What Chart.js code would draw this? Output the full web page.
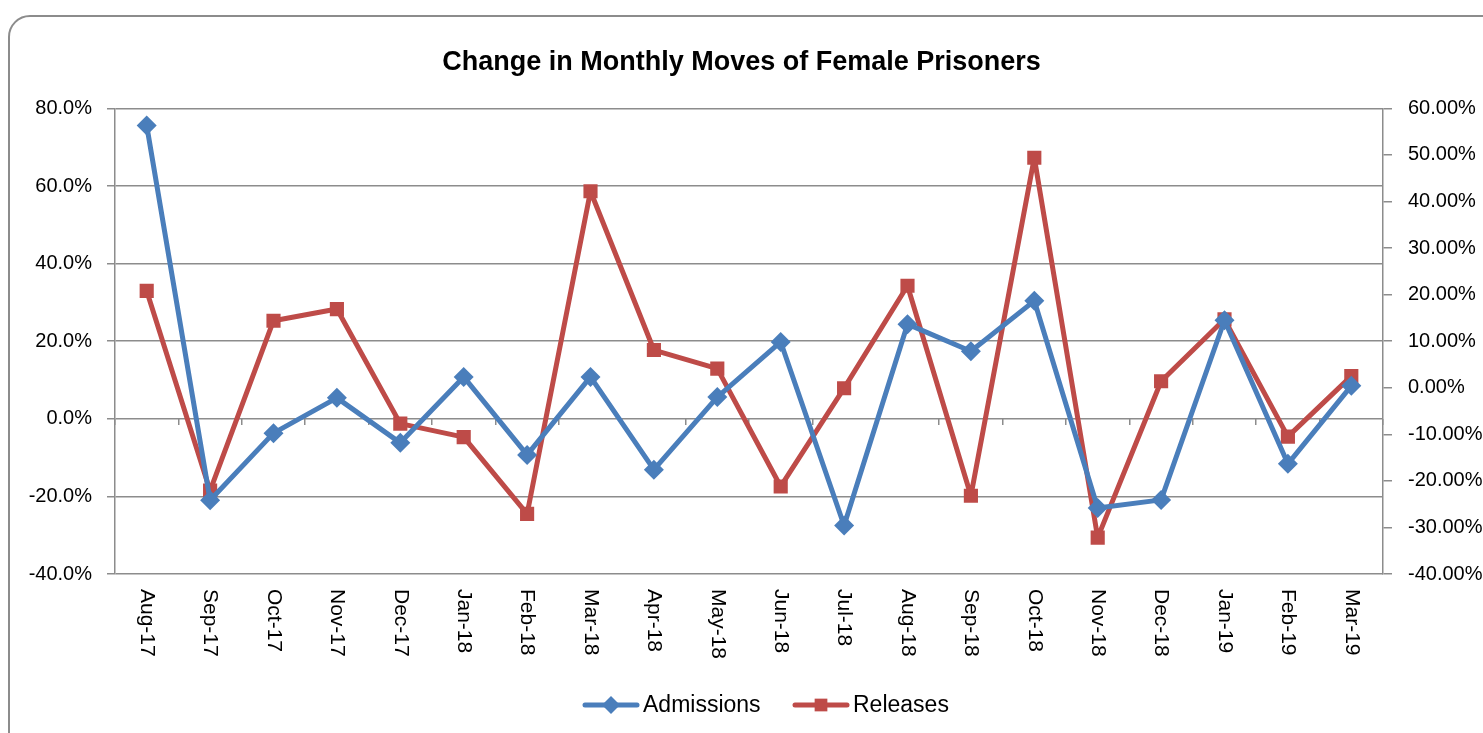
<!DOCTYPE html>
<html>
<head>
<meta charset="utf-8">
<script src="https://cdn.jsdelivr.net/npm/chart.js@4"></script>
<style>
	html, body { margin: 0; padding: 0; background: #fff; overflow: hidden; }
	#frame {
		position: absolute; left: 8px; top: 15px; width: 1560px; height: 780px;
		border: 2px solid #8c8c8c; border-radius: 22px;
	}
	#wrap { position: absolute; left: 0; top: 0; width: 1483px; height: 733px; }
</style>
</head>
<body>
<div id="frame"></div>
<div id="wrap"><canvas id="myChart" width="1483" height="733"></canvas></div>
<script>
var months = ['Aug-17','Sep-17','Oct-17','Nov-17','Dec-17','Jan-18','Feb-18','Mar-18','Apr-18','May-18',
	'Jun-18','Jul-18','Aug-18','Sep-18','Oct-18','Nov-18','Dec-18','Jan-19','Feb-19','Mar-19'];
// left axis, percent
var admissions = [75.6, -21.0, -3.7, 5.4, -6.2, 10.8, -9.3, 10.8, -13.1, 5.6,
	19.8, -27.5, 24.4, 17.4, 30.4, -23.0, -20.9, 25.4, -11.6, 8.5];
// right axis, percent
var releases = [20.8, -22.1, 14.4, 16.9, -7.7, -10.6, -27.1, 42.2, 8.1, 4.1,
	-21.2, -0.1, 21.9, -23.2, 49.4, -32.2, 1.4, 14.7, -10.5, 2.5];

var leftTicks = { min: -40, max: 80, step: 20 };
var rightTicks = { min: -40, max: 60, step: 10 };

var blue = '#4a7ebb';
var red = '#be4b48';
var gridGrey = '#8c8c8c';
var font = "'Liberation Sans', Arial, sans-serif";

// category labels (read top-down) and legend, Excel style
var extras = {
	id: 'extras',
	afterDraw: function(chart) {
		var ctx = chart.ctx;
		var xs = chart.scales.x;
		var area = chart.chartArea;
		ctx.save();
		ctx.fillStyle = '#000';
		ctx.font = '21px ' + font;
		ctx.textAlign = 'left';
		ctx.textBaseline = 'middle';
		for (var i = 0; i < months.length; i++) {
			var x = xs.getPixelForValue(i);
			ctx.save();
			ctx.translate(x, area.bottom + 15);
			ctx.rotate(Math.PI / 2);
			ctx.fillText(months[i], 0, 0);
			ctx.restore();
		}

		// legend
		var y = 705;
		var items = [
			{ label: 'Admissions', color: blue, style: 'rectRot', x: 585 },
			{ label: 'Releases', color: red, style: 'rect', x: 795 }
		];
		ctx.font = '23px ' + font;
		items.forEach(function(it) {
			ctx.strokeStyle = it.color;
			ctx.lineWidth = 5;
			ctx.lineCap = 'round';
			ctx.beginPath();
			ctx.moveTo(it.x, y);
			ctx.lineTo(it.x + 52, y);
			ctx.stroke();
			ctx.fillStyle = it.color;
			Chart.helpers.drawPoint(ctx, { pointStyle: it.style, radius: 9, borderWidth: 0 }, it.x + 26, y);
			ctx.fillStyle = '#000';
			ctx.fillText(it.label, it.x + 58, y + 1);
		});
		ctx.restore();
	}
};

var ctx = document.getElementById('myChart');

var chartdata = {
	labels: months,
	datasets: [
		{
			label: 'Admissions',
			data: admissions,
			yAxisID: 'y',
			borderColor: blue,
			backgroundColor: blue,
			borderWidth: 5,
			borderJoinStyle: 'round',
			borderCapStyle: 'round',
			pointStyle: 'rectRot',
			pointRadius: 10,
			pointBorderWidth: 0,
			tension: 0
		},
		{
			label: 'Releases',
			data: releases,
			yAxisID: 'y1',
			borderColor: red,
			backgroundColor: red,
			borderWidth: 5,
			borderJoinStyle: 'round',
			borderCapStyle: 'round',
			pointStyle: 'rect',
			pointRadius: 10,
			pointBorderWidth: 0,
			tension: 0
		}
	]
};

var lineGraph = new Chart(ctx, {
	type: 'line',
	data: chartdata,
	plugins: [extras],
	options: {
		responsive: false,
		animation: false,
		layout: { padding: { left: 0, right: 0, top: 0, bottom: 159 } },
		plugins: {
			legend: { display: false },
			tooltip: { enabled: false },
			title: {
				display: true,
				text: 'Change in Monthly Moves of Female Prisoners',
				color: '#000',
				font: { family: font, size: 27, weight: 'bold' },
				padding: { top: 46, bottom: 30 }
			}
		},
		scales: {
			x: {
				type: 'category',
				offset: true,
				position: { y: 0 },
				grid: { offset: true, drawOnChartArea: false, drawTicks: true, tickLength: 6, color: gridGrey, lineWidth: 1.5 },
				border: { display: false },
				ticks: { display: false }
			},
			y: {
				position: 'left',
				min: leftTicks.min,
				max: leftTicks.max,
				ticks: {
					stepSize: leftTicks.step,
					color: '#000',
					padding: 15,
					font: { family: font, size: 20 },
					callback: function(v) { return v.toFixed(1) + '%'; }
				},
				grid: { color: gridGrey, lineWidth: 1.5, tickLength: 8 },
				border: { color: gridGrey, width: 1.5 },
				afterFit: function(scale) { scale.width = 115; }
			},
			y1: {
				position: 'right',
				min: rightTicks.min,
				max: rightTicks.max,
				ticks: {
					stepSize: rightTicks.step,
					color: '#000',
					padding: 16,
					font: { family: font, size: 20 },
					callback: function(v) { return v.toFixed(2) + '%'; }
				},
				grid: { drawOnChartArea: false, color: gridGrey, lineWidth: 1.5, tickLength: 9 },
				border: { color: gridGrey, width: 1.5 },
				afterFit: function(scale) { scale.width = 100; }
			}
		}
	}
});
</script>
</body>
</html>
